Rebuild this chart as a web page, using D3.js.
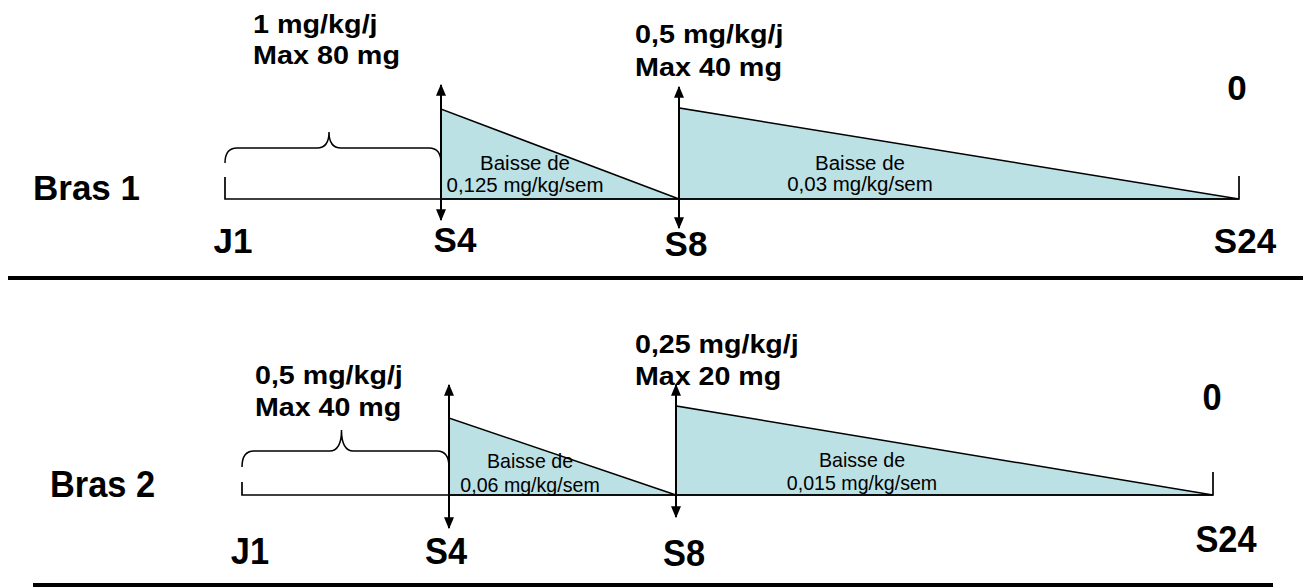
<!DOCTYPE html>
<html lang="fr">
<head>
<meta charset="utf-8">
<script src="https://cdn.jsdelivr.net/npm/d3@7"></script>
<style>
  body { margin: 0; background: #fff; }
  text { font-family: "Liberation Sans", Arial, Helvetica, sans-serif; fill: #000; }
</style>
</head>
<body>
<script>
  var arms = ["Bras 1", "Bras 2"];
  var timeLabels = ["J1", "S4", "S8", "S24"];
  var weeks = [0, 4, 8, 24];
  var startDose = ["1 mg/kg/j", "0,5 mg/kg/j"];
  var startMax = ["Max 80 mg", "Max 40 mg"];
  var s8Dose = ["0,5 mg/kg/j", "0,25 mg/kg/j"];
  var s8Max = ["Max 40 mg", "Max 20 mg"];
  var taperS4 = ["0,125 mg/kg/sem", "0,06 mg/kg/sem"];
  var taperS8 = ["0,03 mg/kg/sem", "0,015 mg/kg/sem"];
  var endDose = ["0", "0"];
  // schematic heights of the taper wedges (arbitrary units)
  var wedgeS4 = [90, 77];
  var wedgeS8 = [91, 89];

  var w = 1303, h = 587;
  var fill = "#bce1e4";

  // layout of each arm panel
  var panels = [
    { base: 199, xr: [225, 441, 679, 1239], brace: [51, 36, 67], tickL: 22, tickR: 23,
      arrows: [[114, 21], [112, 29]], big: 35, bigSx: 1.0, dose: 25, doseSx: 1.15, small: 19.5, smallSx: 1.05,
      name: [33, 200], tl: [[233, 253], [455, 252], [686, 256], [1245, 253]], zero: [1237, 100],
      d1: [253, 33, 64], d2: [635, 43, 76], t1: [525, 170, 192], t2: [860, 170, 191], sep: [8, 1303, 278] },
    { base: 495, xr: [242, 449, 676, 1213], brace: [44, 28, 65], tickL: 13, tickR: 23,
      arrows: [[110, 33], [110, 22]], big: 37, bigSx: 0.93, dose: 26, doseSx: 1.1, small: 20, smallSx: 0.98,
      name: [50, 497], tl: [[250, 564], [446, 564], [684, 566], [1226, 552]], zero: [1212, 410],
      d1: [255, 384, 416], d2: [635, 353, 385], t1: [530, 468, 492], t2: [862, 467, 490], sep: [33, 1273, 585] }
  ];

  var svg = d3.select("body").append("svg")
    .attr("width", w)
    .attr("height", h);

  var defs = svg.append("defs");
  defs.append("marker")
    .attr("id", "head")
    .attr("viewBox", "0 0 10 10")
    .attr("refX", 9).attr("refY", 5)
    .attr("markerWidth", 6).attr("markerHeight", 5)
    .attr("markerUnits", "strokeWidth")
    .attr("orient", "auto-start-reverse")
    .attr("preserveAspectRatio", "none")
    .append("path")
    .attr("d", "M0,0 L10,5 L0,10 z")
    .attr("fill", "#000");

  function label(g, x, y, str, size, weight, sx, anchor) {
    g.append("text")
      .attr("transform", "translate(" + x + "," + y + ") scale(" + sx + ",1)")
      .attr("text-anchor", anchor || "start")
      .style("font-size", size + "px")
      .style("font-weight", weight)
      .text(str);
  }

  panels.forEach(function(p, i) {
    var g = svg.append("g").attr("class", "arm");
    var x = d3.scaleLinear().domain(weeks).range(p.xr);
    var y = d3.scaleLinear().domain([0, 100]).range([p.base, p.base - 100]);

    // taper wedges
    var wedges = [
      [[4, 0], [4, wedgeS4[i]], [8, 0]],
      [[8, 0], [8, wedgeS8[i]], [24, 0]]
    ];
    g.selectAll("path.wedge")
      .data(wedges)
      .enter()
      .append("path")
      .attr("class", "wedge")
      .attr("d", function(d) { return "M" + d.map(function(v) { return x(v[0]) + "," + y(v[1]); }).join("L") + "Z"; })
      .attr("fill", fill)
      .attr("stroke", "#000")
      .attr("stroke-width", 1.5);

    // baseline and end ticks
    g.append("path")
      .attr("d", "M" + x(0) + "," + (p.base - p.tickL) + "V" + p.base + "H" + x(24) + "V" + (p.base - p.tickR))
      .attr("fill", "none")
      .attr("stroke", "#000")
      .attr("stroke-width", 1.7);

    // brace over J1-S4
    var x0 = x(0), x1 = x(4), xm = (x0 + x1) / 2 - 4;
    var yt = p.base - p.brace[0], ye = p.base - p.brace[1], yp = p.base - p.brace[2], r = 12;
    g.append("path")
      .attr("d", "M" + x0 + "," + ye +
        "Q" + x0 + "," + yt + " " + (x0 + r) + "," + yt +
        "H" + (xm - r) +
        "Q" + xm + "," + yt + " " + xm + "," + yp +
        "Q" + xm + "," + yt + " " + (xm + r) + "," + yt +
        "H" + (x1 - r) +
        "Q" + x1 + "," + yt + " " + x1 + "," + ye)
      .attr("fill", "none")
      .attr("stroke", "#000")
      .attr("stroke-width", 1.5);

    // double arrows at S4 and S8
    [4, 8].forEach(function(wk, k) {
      g.append("line")
        .attr("x1", x(wk)).attr("x2", x(wk))
        .attr("y1", p.base + p.arrows[k][1]).attr("y2", p.base - p.arrows[k][0])
        .attr("stroke", "#000")
        .attr("stroke-width", 2)
        .attr("marker-start", "url(#head)")
        .attr("marker-end", "url(#head)");
    });

    // labels
    label(g, p.name[0], p.name[1], arms[i], p.big, "bold", p.bigSx);
    timeLabels.forEach(function(t, k) {
      label(g, p.tl[k][0], p.tl[k][1], t, p.big, "bold", p.bigSx, "middle");
    });
    label(g, p.zero[0], p.zero[1], endDose[i], p.big, "bold", p.bigSx, "middle");

    label(g, p.d1[0], p.d1[1], startDose[i], p.dose, "bold", p.doseSx);
    label(g, p.d1[0], p.d1[2], startMax[i], p.dose, "bold", p.doseSx);
    label(g, p.d2[0], p.d2[1], s8Dose[i], p.dose, "bold", p.doseSx);
    label(g, p.d2[0], p.d2[2], s8Max[i], p.dose, "bold", p.doseSx);

    label(g, p.t1[0], p.t1[1], "Baisse de", p.small, "normal", p.smallSx, "middle");
    label(g, p.t1[0], p.t1[2], taperS4[i], p.small, "normal", p.smallSx, "middle");
    label(g, p.t2[0], p.t2[1], "Baisse de", p.small, "normal", p.smallSx, "middle");
    label(g, p.t2[0], p.t2[2], taperS8[i], p.small, "normal", p.smallSx, "middle");

    // separator under the arm
    svg.append("line")
      .attr("x1", p.sep[0]).attr("x2", p.sep[1])
      .attr("y1", p.sep[2]).attr("y2", p.sep[2])
      .attr("stroke", "#000")
      .attr("stroke-width", 4);
  });
</script>
</body>
</html>
